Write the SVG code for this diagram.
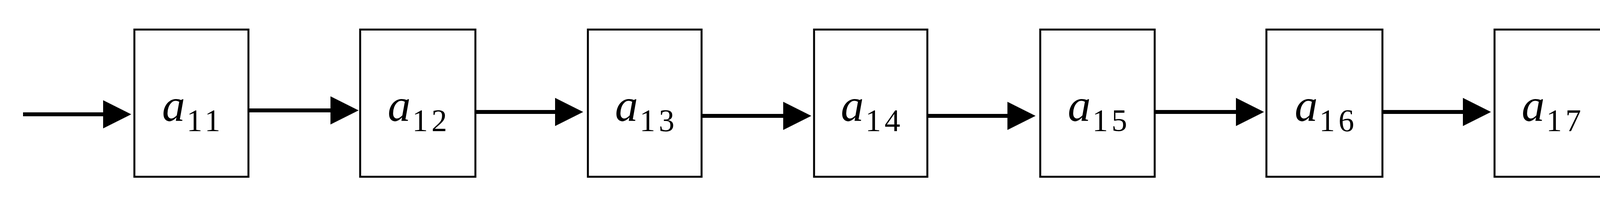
<svg xmlns="http://www.w3.org/2000/svg" width="4187" height="516" viewBox="0 0 4187 516">
<style>
.box{fill:#ffffff;stroke:#000000;stroke-width:5}
.conn{stroke:#000000;stroke-width:10;fill:none}
.lbl{font-family:"Liberation Serif","Times New Roman",serif;fill:#000000}
.v{font-style:italic;font-size:118px}
.s{font-size:80px;letter-spacing:9px}
</style>
<defs>
<marker id="ah" markerUnits="userSpaceOnUse" markerWidth="74" markerHeight="74" viewBox="0 0 74 74" refX="2" refY="36" orient="auto">
<path d="M0,0 L72,36 L0,72 Z" fill="#000000"/>
</marker>
</defs>
<rect x="0" y="0" width="4187" height="516" fill="#ffffff"/>
<g id="connectors">
<line class="conn" x1="59" y1="292" x2="266" y2="292" marker-end="url(#ah)"/>
<line class="conn" x1="636" y1="282" x2="848" y2="282" marker-end="url(#ah)"/>
<line class="conn" x1="1217" y1="286" x2="1423" y2="286" marker-end="url(#ah)"/>
<line class="conn" x1="1796" y1="296" x2="2007" y2="296" marker-end="url(#ah)"/>
<line class="conn" x1="2374" y1="296" x2="2581" y2="296" marker-end="url(#ah)"/>
<line class="conn" x1="2956" y1="286" x2="3166" y2="286" marker-end="url(#ah)"/>
<line class="conn" x1="3539" y1="286" x2="3747" y2="286" marker-end="url(#ah)"/>
</g>
<g id="a11">
<rect class="box" x="344" y="75.5" width="292" height="376"/>
<text class="lbl" x="494" y="309" text-anchor="middle"><tspan class="v">a</tspan><tspan class="s" dx="4" dy="26">11</tspan></text>
</g>
<g id="a12">
<rect class="box" x="922" y="75.5" width="295" height="376"/>
<text class="lbl" x="1073" y="309" text-anchor="middle"><tspan class="v">a</tspan><tspan class="s" dx="4" dy="26">12</tspan></text>
</g>
<g id="a13">
<rect class="box" x="1505" y="75.5" width="291" height="376"/>
<text class="lbl" x="1655" y="309" text-anchor="middle"><tspan class="v">a</tspan><tspan class="s" dx="4" dy="26">13</tspan></text>
</g>
<g id="a14">
<rect class="box" x="2084" y="75.5" width="290" height="376"/>
<text class="lbl" x="2233" y="309" text-anchor="middle"><tspan class="v">a</tspan><tspan class="s" dx="4" dy="26">14</tspan></text>
</g>
<g id="a15">
<rect class="box" x="2663" y="75.5" width="293" height="376"/>
<text class="lbl" x="2814" y="309" text-anchor="middle"><tspan class="v">a</tspan><tspan class="s" dx="4" dy="26">15</tspan></text>
</g>
<g id="a16">
<rect class="box" x="3242" y="75.5" width="297" height="376"/>
<text class="lbl" x="3395" y="309" text-anchor="middle"><tspan class="v">a</tspan><tspan class="s" dx="4" dy="26">16</tspan></text>
</g>
<g id="a17">
<rect class="box" x="3826" y="75.5" width="291.5" height="376"/>
<text class="lbl" x="3976" y="309" text-anchor="middle"><tspan class="v">a</tspan><tspan class="s" dx="4" dy="26">17</tspan></text>
</g>
</svg>
